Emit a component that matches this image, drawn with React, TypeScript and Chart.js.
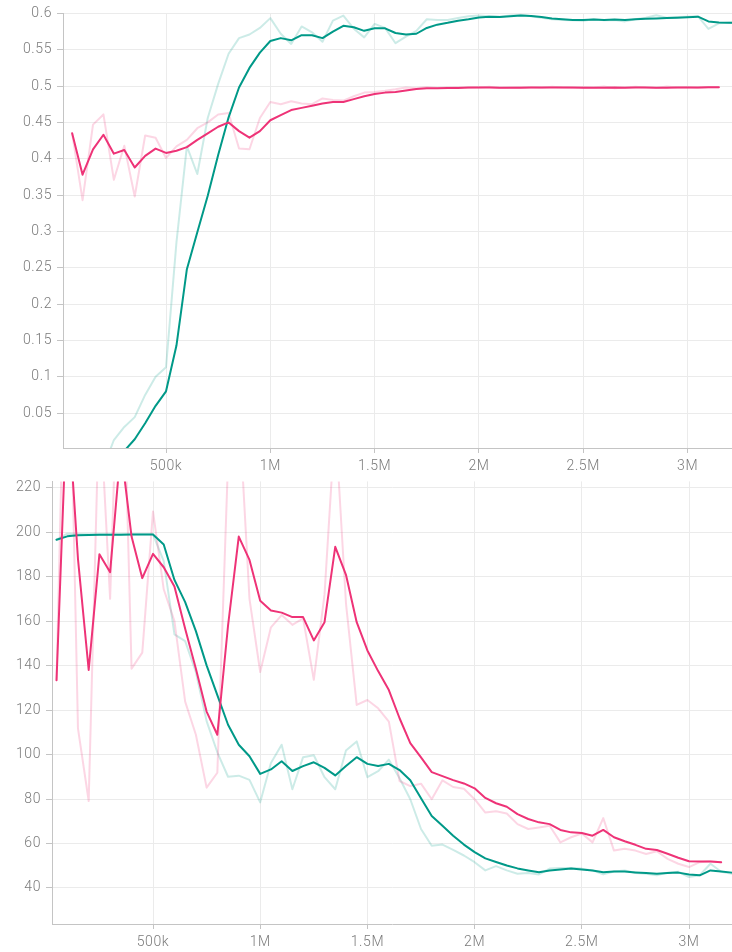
import { useEffect, useRef } from "react";
import { Chart, registerables } from "chart.js";

Chart.register(...registerables);

const STEPS = [
  50000, 100000, 150000, 200000, 250000, 300000, 350000, 400000, 450000, 500000,
  550000, 600000, 650000, 700000, 750000, 800000, 850000, 900000, 950000, 1000000,
  1050000, 1100000, 1150000, 1200000, 1250000, 1300000, 1350000, 1400000, 1450000, 1500000,
  1550000, 1600000, 1650000, 1700000, 1750000, 1800000, 1850000, 1900000, 1950000, 2000000,
  2050000, 2100000, 2150000, 2200000, 2250000, 2300000, 2350000, 2400000, 2450000, 2500000,
  2550000, 2600000, 2650000, 2700000, 2750000, 2800000, 2850000, 2900000, 2950000, 3000000,
  3050000, 3100000, 3150000, 3200000, 3250000,
];

const X_TICKS = [500000, 1000000, 1500000, 2000000, 2500000, 3000000];
const TOP_Y_TICKS = [0.05, 0.1, 0.15, 0.2, 0.25, 0.3, 0.35, 0.4, 0.45, 0.5, 0.55, 0.6];
const BOT_Y_TICKS = [40, 60, 80, 100, 120, 140, 160, 180, 200, 220];

// top panel
const TOP_GREEN_SMOOTH = [
  0, 0, 0, 0, 0, -0.002, 0.014, 0.036, 0.06, 0.08,
  0.143, 0.248, 0.299, 0.349, 0.405, 0.457, 0.498, 0.525, 0.546, 0.562,
  0.566, 0.563, 0.57, 0.57, 0.566, 0.575, 0.583, 0.581, 0.576, 0.5795,
  0.5795, 0.573, 0.571, 0.572, 0.58, 0.5845, 0.587, 0.59, 0.592, 0.5945,
  0.5955, 0.595, 0.596, 0.597, 0.5965, 0.595, 0.593, 0.592, 0.591, 0.591,
  0.5915, 0.591, 0.5915, 0.591, 0.592, 0.5925, 0.593, 0.5935, 0.594, 0.5948,
  0.5955, 0.589, 0.5875, 0.587, 0.587,
];
const TOP_GREEN_RAW = [
  0, 0, 0, -0.025, 0.013, 0.031, 0.0445, 0.075, 0.1, 0.113,
  0.285, 0.417, 0.379, 0.456, 0.503, 0.5445, 0.566, 0.571, 0.58, 0.5935,
  0.572, 0.558, 0.582, 0.574, 0.561, 0.59, 0.597, 0.579, 0.567, 0.5855,
  0.58, 0.559, 0.568, 0.576, 0.592, 0.591, 0.591, 0.5936, 0.596, 0.597,
  0.596, 0.5955, 0.597, 0.598, 0.596, 0.594, 0.592, 0.591, 0.5905, 0.59,
  0.592, 0.5905, 0.591, 0.589, 0.592, 0.594, 0.5975, 0.594, 0.595, 0.5955,
  0.596, 0.5786, 0.5864, 0.587, 0.587,
];
const TOP_PINK_SMOOTH = [
  0.435, 0.378, 0.413, 0.433, 0.407, 0.412, 0.388, 0.404, 0.414, 0.408,
  0.411, 0.416, 0.426, 0.435, 0.444, 0.45, 0.438, 0.429, 0.438, 0.453,
  0.46, 0.467, 0.47, 0.473, 0.476, 0.478, 0.478, 0.482, 0.486, 0.489,
  0.491, 0.492, 0.494, 0.496, 0.497, 0.497, 0.4975, 0.4975, 0.498, 0.498,
  0.498, 0.4978, 0.4976, 0.4978, 0.498, 0.4982, 0.498, 0.4982, 0.498, 0.4978,
  0.4976, 0.4978, 0.498, 0.4978, 0.4982, 0.498, 0.4976, 0.4978, 0.498, 0.4982,
  0.498, 0.4985, 0.4985,
];
const TOP_PINK_RAW = [
  0.435, 0.343, 0.447, 0.461, 0.371, 0.418, 0.348, 0.432, 0.429, 0.401,
  0.417, 0.426, 0.442, 0.45, 0.461, 0.463, 0.414, 0.413, 0.456, 0.478,
  0.475, 0.479, 0.476, 0.475, 0.483, 0.481, 0.48, 0.486, 0.491, 0.492,
  0.4935, 0.4955, 0.498, 0.497, 0.4985, 0.4975, 0.498, 0.4985, 0.4975, 0.498,
  0.499, 0.4975, 0.498, 0.4985, 0.498, 0.4975, 0.499, 0.498, 0.4975, 0.4985,
  0.498, 0.4995, 0.497, 0.498, 0.499, 0.498, 0.4975, 0.4995, 0.498, 0.4985,
  0.4975, 0.4985, 0.4985,
];

// bottom panel
const BOT_GREEN_SMOOTH = [
  196.6, 198.1, 198.6, 198.7, 198.8, 198.8, 198.8, 198.9, 198.9, 198.9,
  194.4, 178.5, 168.5, 155.5, 140.1, 126.7, 113.4, 104.4, 99.2, 91.3,
  93.3, 97.0, 92.6, 94.8, 96.5, 94.0, 90.6, 94.8, 98.8, 95.8,
  94.8, 95.8, 93.0, 88.4, 80.3, 72.4, 68.0, 63.5, 59.5, 56.1,
  53.3, 51.7, 50.1, 48.8, 47.9, 47.1, 47.9, 48.3, 48.7, 48.3,
  47.9, 47.1, 47.4, 47.4, 47.0, 46.7, 46.4, 46.7, 46.9, 46.1,
  45.7, 47.9, 47.4, 46.9, 46.6,
];
const BOT_GREEN_RAW = [
  196.6, 199.3, 199.1, 199, 199, 199, 199, 199, 199, 199,
  187, 154, 151, 137, 115, 101, 90, 90.5, 88.6, 78.5,
  96.2, 104.4, 84.4, 98.8, 99.7, 89.8, 84.4, 101.8, 105.9, 89.8,
  92.5, 97.7, 89.3, 79.9, 66.5, 59, 59.5, 57.1, 54.6, 51.6,
  47.9, 49.8, 47.9, 46.4, 46.7, 46.1, 48.7, 49, 49, 48.7,
  47.9, 46.1, 47.4, 47.9, 46.7, 46.4, 45.7, 46.9, 47.3, 44.9,
  45.7, 50.9, 47.3, 46.4, 46.4,
];
const BOT_PINK_SMOOTH = [
  133.4, 262, 188, 138, 190, 182, 238, 198, 179.3, 190.2,
  184.2, 175.5, 156.5, 138.6, 119.3, 108.9, 158, 198, 187.5, 169.1,
  164.8, 163.8, 161.8, 161.8, 151.3, 159.5, 193.4, 180.8, 159.5, 146.8,
  137.5, 129, 116.3, 105.1, 98.7, 92.1, 90.3, 88.5, 87, 84.8,
  80.5, 78.1, 76.5, 73.2, 71, 69.5, 68.7, 66.1, 65, 64.7,
  63.5, 66.1, 62.8, 61, 59.4, 57.6, 57.1, 55.4, 53.6, 52,
  51.9, 51.9, 51.6,
];
const BOT_PINK_RAW = [
  133.4, 340, 111.8, 79.1, 262, 170, 320, 138.6, 145.8, 209.3,
  174.3, 160, 123.8, 108.9, 85.1, 91.8, 232, 258, 170, 137.1,
  157.2, 162.7, 158.3, 161.2, 133.6, 172, 250, 168, 122.3, 124.5,
  120.8, 114.8, 88.1, 85.8, 86.9, 79.9, 88.4, 85.4, 84.6, 79.9,
  73.9, 74.5, 73.5, 68.7, 66.5, 67.2, 68, 60.5, 62.8, 64.5,
  60.5, 71.4, 56.8, 57.6, 56.8, 55.3, 56.5, 53.1, 50.9, 49.4,
  51.6, 52, 51.6,
];

const TEAL = "#009988";
const TEAL_LIGHT = "rgba(0,153,136,0.2)";
const PINK = "#ee3377";
const PINK_LIGHT = "rgba(238,51,119,0.2)";
const GRID = "#ebebeb";
const AXIS = "#c4c4c4";
const TICK_TEXT = "#7b7b7b";
const FONT = { family: "Roboto, 'DejaVu Sans', sans-serif", size: 14, weight: "300" };

const pts = (ys: number[]) => ys.map((y, i) => ({ x: STEPS[i], y }));

const spacingPlugin = {
  id: "letterSpacing",
  beforeUpdate(chart: any) {
    chart.ctx.letterSpacing = "0.6px";
  },
  beforeDraw(chart: any) {
    chart.ctx.letterSpacing = "0.6px";
  },
};

function line(data: number[], color: string) {
  return {
    data: pts(data),
    borderColor: color,
    backgroundColor: color,
    borderWidth: 2,
    pointRadius: 0,
    pointHoverRadius: 0,
    tension: 0,
    fill: false,
    clip: 0,
    borderJoinStyle: "round" as const,
    borderCapStyle: "round" as const,
  };
}

function xLabel(v: number) {
  return v >= 1e6 ? `${v / 1e6}M` : `${v / 1e3}k`;
}

function makeConfig(opts: {
  series: [number[], string][];
  xMin: number;
  xMax: number;
  yMin: number;
  yMax: number;
  yTicks: number[];
  yWidth: number;
  xHeight: number;
  padTop: number;
  yFmt: (v: number) => string;
}): any {
  return {
    type: "line",
    data: { datasets: opts.series.map(([d, c]) => line(d, c)) },
    plugins: [spacingPlugin],
    options: {
      animation: false,
      responsive: false,
      devicePixelRatio: 1,
      layout: { padding: { top: opts.padTop, left: 0, right: 0, bottom: 0 } },
      plugins: { legend: { display: false }, tooltip: { enabled: false } },
      events: [],
      scales: {
        x: {
          type: "linear",
          min: opts.xMin,
          max: opts.xMax,
          afterBuildTicks: (s: any) => {
            s.ticks = X_TICKS.map((v) => ({ value: v }));
          },
          ticks: {
            autoSkip: false,
            maxRotation: 0,
            padding: 5,
            color: TICK_TEXT,
            font: FONT,
            callback: (v: number) => xLabel(v),
          },
          grid: { color: GRID, lineWidth: 1, tickLength: 5, tickColor: AXIS, drawTicks: true },
          border: { display: true, color: AXIS, width: 1 },
          afterFit: (s: any) => {
            s.height = opts.xHeight;
          },
        },
        y: {
          type: "linear",
          min: opts.yMin,
          max: opts.yMax,
          afterBuildTicks: (s: any) => {
            s.ticks = opts.yTicks.map((v) => ({ value: v }));
          },
          ticks: {
            autoSkip: false,
            padding: 5,
            color: TICK_TEXT,
            font: FONT,
            callback: (v: number) => opts.yFmt(v),
          },
          grid: { color: GRID, lineWidth: 1, tickLength: 6, tickColor: AXIS, drawTicks: true },
          border: { display: true, color: AXIS, width: 1 },
          afterFit: (s: any) => {
            s.width = opts.yWidth;
          },
        },
      },
    },
  };
}

export default function App() {
  const topRef = useRef<HTMLCanvasElement>(null);
  const botRef = useRef<HTMLCanvasElement>(null);

  useEffect(() => {
    const top = new Chart(
      topRef.current!,
      makeConfig({
        series: [
          [TOP_PINK_SMOOTH, PINK],
          [TOP_GREEN_SMOOTH, TEAL],
          [TOP_PINK_RAW, PINK_LIGHT],
          [TOP_GREEN_RAW, TEAL_LIGHT],
        ],
        xMin: 6200,
        xMax: 3213000,
        yMin: 0.002,
        yMax: 0.6,
        yTicks: TOP_Y_TICKS,
        yWidth: 63,
        xHeight: 30,
        padTop: 9,
        yFmt: (v) => String(Number(v.toFixed(2))),
      })
    );
    const bot = new Chart(
      botRef.current!,
      makeConfig({
        series: [
          [BOT_PINK_SMOOTH, PINK],
          [BOT_GREEN_SMOOTH, TEAL],
          [BOT_PINK_RAW, PINK_LIGHT],
          [BOT_GREEN_RAW, TEAL_LIGHT],
        ],
        xMin: 28900,
        xMax: 3200500,
        yMin: 23.8,
        yMax: 222.8,
        yTicks: BOT_Y_TICKS,
        yWidth: 52,
        xHeight: 28,
        padTop: 10,
        yFmt: (v) => String(Math.round(v)),
      })
    );
    return () => {
      top.destroy();
      bot.destroy();
    };
  }, []);

  return (
    <div
      style={{
        position: "fixed",
        left: 0,
        top: 0,
        width: 732,
        height: 952,
        overflow: "hidden",
        background: "#ffffff",
      }}
    >
      <canvas
        ref={topRef}
        width={732}
        height={478}
        style={{ position: "absolute", left: 0, top: 0, width: 732, height: 478 }}
      />
      <canvas
        ref={botRef}
        width={732}
        height={484}
        style={{ position: "absolute", left: 0, top: 468, width: 732, height: 484 }}
      />
    </div>
  );
}
